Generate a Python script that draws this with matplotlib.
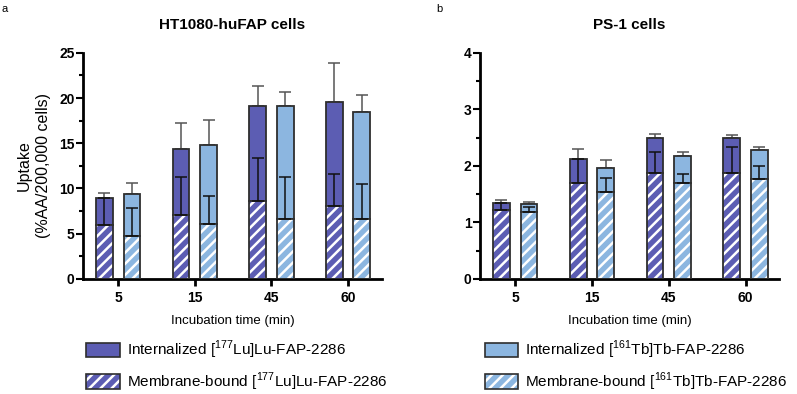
import matplotlib
matplotlib.use("Agg")
import matplotlib.pyplot as plt
from matplotlib.patches import Patch
import numpy as np

plt.rcParams['font.family'] = ['Liberation Sans', 'DejaVu Sans']
plt.rcParams['mathtext.fontset'] = 'custom'
plt.rcParams['mathtext.rm'] = 'Liberation Sans'
plt.rcParams['hatch.linewidth'] = 1.8

# data
times = ['5', '15', '45', '60']

# HT1080-huFAP (panel a)
a_lu_total = [8.95, 14.35, 19.1, 19.6]
a_lu_total_sd = [0.55, 2.9, 2.2, 4.3]
a_lu_mem = [6.0, 7.1, 8.6, 8.1]
a_lu_mem_sd = [2.95, 4.15, 4.8, 3.45]
a_tb_total = [9.4, 14.85, 19.1, 18.5]
a_tb_total_sd = [1.2, 2.75, 1.55, 1.85]
a_tb_mem = [4.7, 6.1, 6.6, 6.6]
a_tb_mem_sd = [3.1, 3.1, 4.65, 3.85]

# PS-1 (panel b)
b_lu_total = [1.35, 2.13, 2.49, 2.49]
b_lu_total_sd = [0.04, 0.16, 0.08, 0.05]
b_lu_mem = [1.22, 1.69, 1.87, 1.87]
b_lu_mem_sd = [0.12, 0.43, 0.38, 0.46]
b_tb_total = [1.32, 1.97, 2.18, 2.28]
b_tb_total_sd = [0.04, 0.13, 0.06, 0.06]
b_tb_mem = [1.18, 1.54, 1.69, 1.77]
b_tb_mem_sd = [0.09, 0.25, 0.17, 0.22]

c_lu = '#5c5db3'
c_tb = '#8cb6e0'
edge = '#2e2e2e'


def draw_group(ax, x, total, total_sd, mem, mem_sd, color, w=0.22):
    inter = np.array(total) - np.array(mem)
    # internalized part stacked on membrane-bound
    ax.bar(x, inter, w, bottom=mem, color=color, edgecolor=edge, linewidth=1.3, zorder=2)
    # membrane-bound: hatched fill, then outline
    ax.bar(x, mem, w, color=color, edgecolor='white', hatch='///', linewidth=0, zorder=2)
    ax.bar(x, mem, w, fill=False, edgecolor=edge, linewidth=1.3, zorder=3)
    ax.errorbar(x, total, yerr=[np.zeros(len(x)), total_sd], fmt='none',
                ecolor='#555555', elinewidth=1.1, capsize=4.5, capthick=1.1, zorder=1)
    ax.errorbar(x, mem, yerr=[np.zeros(len(x)), mem_sd], fmt='none',
                ecolor='#111111', elinewidth=1.1, capsize=4.5, capthick=1.1, zorder=4)


def style_axis(ax, ymax, major, minor):
    ax.set_ylim(0, ymax)
    ax.set_xlim(-0.46, 3.44)
    ax.set_yticks(np.arange(0, ymax + 0.001, major))
    ax.set_yticks(np.arange(0, ymax + 0.001, minor), minor=True)
    ax.set_xticks(np.arange(len(times)))
    ax.set_xticklabels(times)
    for s in ['top', 'right']:
        ax.spines[s].set_visible(False)
    for s in ['left', 'bottom']:
        ax.spines[s].set_linewidth(2)
    ax.tick_params(axis='y', which='major', length=5, width=1.5, labelsize=10, pad=1)
    ax.tick_params(axis='y', which='minor', length=3, width=1.5)
    ax.tick_params(axis='x', length=5, width=2, labelsize=10, pad=4)
    for lab in ax.get_xticklabels() + ax.get_yticklabels():
        lab.set_fontweight('bold')
    ax.set_xlabel('Incubation time (min)', fontsize=9.5, labelpad=7)


fig = plt.figure(figsize=(7.97, 3.94), dpi=100)
ax1 = fig.add_axes([0.104, 0.292, 0.375, 0.574])
ax2 = fig.add_axes([0.602, 0.292, 0.376, 0.574])

x = np.arange(len(times))
off = 0.18

draw_group(ax1, x - off, a_lu_total, a_lu_total_sd, a_lu_mem, a_lu_mem_sd, c_lu)
draw_group(ax1, x + off, a_tb_total, a_tb_total_sd, a_tb_mem, a_tb_mem_sd, c_tb)
style_axis(ax1, 25, 5, 2.5)
ax1.set_title('HT1080-huFAP cells', fontsize=11, fontweight='bold', pad=17)
ax1.set_ylabel('Uptake\n(%AA/200,000 cells)', fontsize=11.5, labelpad=6, linespacing=1.3)

draw_group(ax2, x - off, b_lu_total, b_lu_total_sd, b_lu_mem, b_lu_mem_sd, c_lu)
draw_group(ax2, x + off, b_tb_total, b_tb_total_sd, b_tb_mem, b_tb_mem_sd, c_tb)
style_axis(ax2, 4, 1, 0.5)
ax2.set_title('PS-1 cells', fontsize=11, fontweight='bold', pad=17)

fig.text(0.002, 0.978, 'a', fontsize=8, va='center')
fig.text(0.548, 0.978, 'b', fontsize=8, va='center')


def handles(color):
    solid = Patch(facecolor=color, edgecolor=edge, linewidth=1.2)
    hatched = (Patch(facecolor=color, edgecolor='white', hatch='///', linewidth=0),
               Patch(fill=False, edgecolor=edge, linewidth=1.2))
    return [solid, hatched]


lu_labels = [r'Internalized [$^{177}$Lu]Lu-FAP-2286',
             r'Membrane-bound [$^{177}$Lu]Lu-FAP-2286']
tb_labels = [r'Internalized [$^{161}$Tb]Tb-FAP-2286',
             r'Membrane-bound [$^{161}$Tb]Tb-FAP-2286']

leg_kw = dict(loc='upper left', frameon=False, fontsize=11, handlelength=2.2,
              handleheight=1.1, handletextpad=0.45, labelspacing=0.6, borderpad=0,
              borderaxespad=0)
fig.legend(handles(c_lu), lu_labels, bbox_to_anchor=(0.108, 0.14), **leg_kw)
fig.legend(handles(c_tb), tb_labels, bbox_to_anchor=(0.608, 0.14), **leg_kw)

fig.savefig('out.png', dpi=100)
